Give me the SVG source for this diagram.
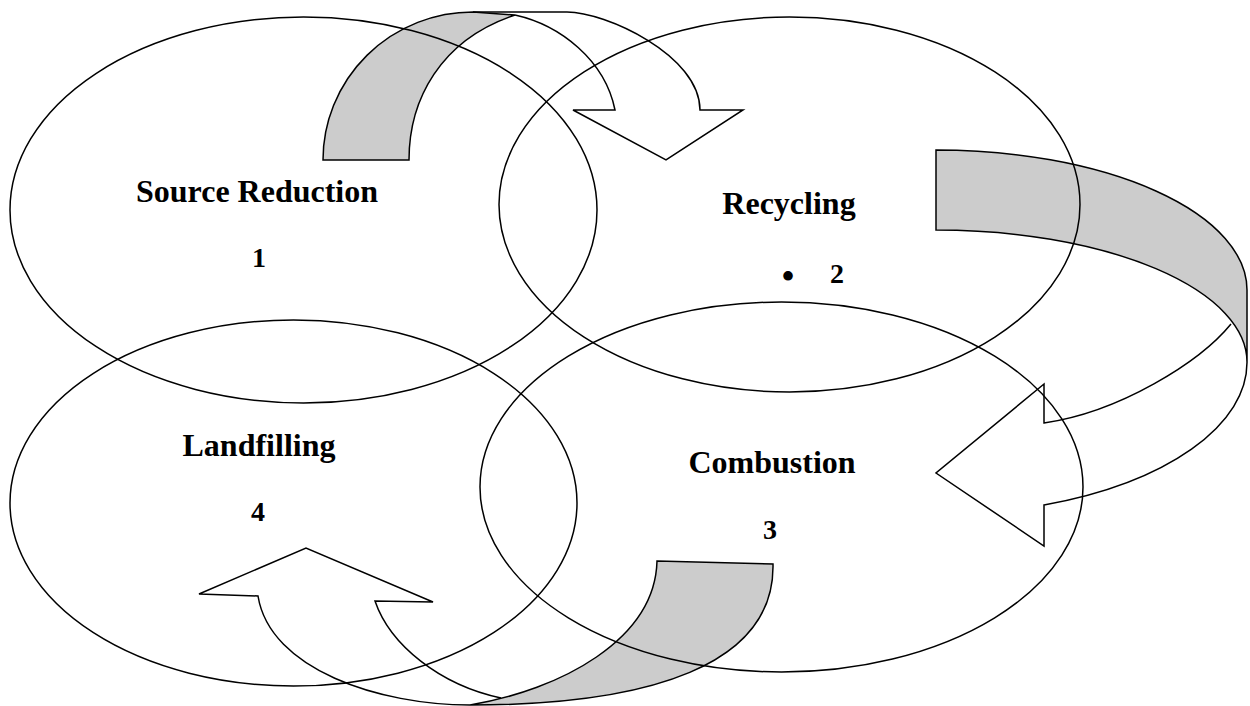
<svg xmlns="http://www.w3.org/2000/svg" width="1250" height="706" viewBox="0 0 1250 706">
<style>
.shade{fill:#cccccc;stroke:#000;stroke-width:1.5;stroke-linejoin:miter}
.line{fill:none;stroke:#000;stroke-width:1.5;stroke-linejoin:miter}
.node{fill:none;stroke:#000;stroke-width:1.5}
.lbl{font-family:"Liberation Serif","Times New Roman",serif;font-weight:bold;font-size:32px;text-anchor:middle;fill:#000}
.num{font-family:"Liberation Serif","Times New Roman",serif;font-weight:bold;font-size:28px;text-anchor:middle;fill:#000}
.bul{font-family:"Liberation Serif","Times New Roman",serif;font-size:40px;text-anchor:middle;fill:#000}
</style>
<rect width="1250" height="706" fill="#fff"/>
<g id="connectors">
  <g id="arrow-1-2">
    <path class="shade" d="M323,160 A150,148 0 0 1 473,12 L515,15 C440,40 409,100 409,160 Z"/>
    <path class="line" d="M515,15 C560,25 605,60 615,110 L573,110 L666,160 L743,110 L700,110 C700,55 605,12 567,12 L473,12"/>
  </g>
  <g id="arrow-2-3">
    <path class="shade" d="M936,150 A311,140 0 0 1 1247,290 L1247,362 A311,132 0 0 0 936,230 Z"/>
    <path class="line" d="M1231,324 C1200,362 1120,412 1044,423 L1044,384 L936,473 L1044,546 L1044,505 A311,152 0 0 0 1247,362"/>
  </g>
  <g id="arrow-3-4">
    <path class="shade" d="M657,561 L773,564 C775,665 650,705 470,705 C560,690 655,640 657,561 Z"/>
    <path class="line" d="M470,705 C380,705 270,670 258,596 L199,594 L306,548 L433,602 L375,601 C390,645 440,685 501,698"/>
  </g>
</g>
<g id="node-source-reduction">
  <ellipse class="node" cx="303.5" cy="210" rx="293.5" ry="193"/>
  <text class="lbl" x="257" y="202">Source Reduction</text>
  <text class="num" x="259" y="267">1</text>
</g>
<g id="node-recycling">
  <ellipse class="node" cx="789.5" cy="204.5" rx="290.5" ry="187.5"/>
  <text class="lbl" x="789" y="214">Recycling</text>
  <text class="bul" x="788" y="290">•</text>
  <text class="num" x="837" y="283">2</text>
</g>
<g id="node-landfilling">
  <ellipse class="node" cx="293.5" cy="503" rx="283.5" ry="183"/>
  <text class="lbl" x="259" y="456">Landfilling</text>
  <text class="num" x="258" y="521">4</text>
</g>
<g id="node-combustion">
  <ellipse class="node" cx="781.5" cy="487" rx="301.5" ry="185"/>
  <text class="lbl" x="772" y="473">Combustion</text>
  <text class="num" x="770" y="539">3</text>
</g>
</svg>
